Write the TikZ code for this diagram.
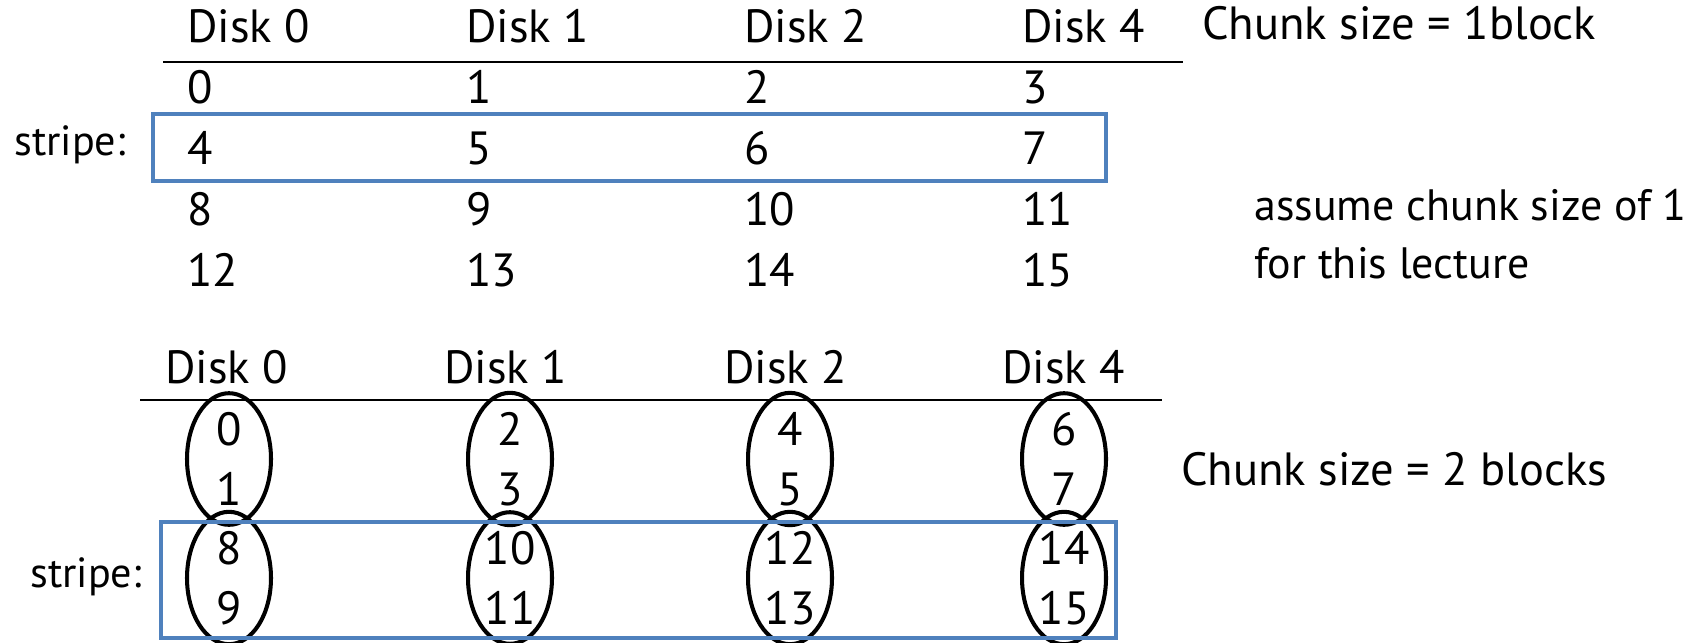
\documentclass[tikz,border=0pt]{standalone}
\usepackage{fontspec}
\setmainfont{PT Sans}
\usetikzlibrary{shapes.geometric}

\definecolor{stripeblue}{HTML}{4F81BD}

\tikzset{
  raid head/.style={anchor=base west, inner sep=0pt, font=\fontsize{26.5}{30}\selectfont},
  raid cell/.style={anchor=base west, inner sep=0pt, font=\fontsize{26.5}{30}\selectfont},
  raid note/.style={anchor=base west, inner sep=0pt, font=\fontsize{26.5}{30}\selectfont},
  raid aside/.style={anchor=base west, inner sep=0pt, font=\fontsize{25}{30}\selectfont},
  raid label/.style={anchor=base west, inner sep=0pt, font=\fontsize{24}{28}\selectfont},
  raid rule/.style={draw=black, line width=1.1pt},
  raid stripe/.style={draw=stripeblue, line width=2.2pt},
  raid chunk/.style={ellipse, draw=black, line width=2.3pt, inner sep=0pt,
    minimum width=1.68cm, minimum height=2.36cm, align=center,
    font=\fontsize{26.5}{34.1}\selectfont},
}

\begin{document}
\begin{tikzpicture}[x=0.02cm, y=-0.02cm]
  \useasboundingbox (0,0) rectangle (1702,642);

  % chunk size = 1 block
  \foreach \x/\d [count=\i from 0] in {187/0, 466/1, 744/2, 1022/4}
    \node[raid head] (tophead\i) at (\x,43) {Disk \d};
  \draw[raid rule] (163,62) -- (1183,62);
  \foreach \r in {0,...,3}
    \foreach \x [count=\c from 0] in {187, 466, 744, 1022} {
      \pgfmathtruncatemacro\n{4*\r+\c}
      \node[raid cell] (top\n) at (\x,{103+61*\r}) {\n};
    }
  \draw[raid stripe] (153,114) rectangle (1106,181);
  \node[raid label] (topstripe) at (14,155) {stripe:};

  \node[raid note] (topsize) at (1202,40) {Chunk size = 1block};
  \node[raid aside] (assume) at (1254,220) {assume chunk size of 1};
  \node[raid aside] (lecture) at (1254,278) {for this lecture};

  % chunk size = 2 blocks
  \foreach \x/\d [count=\i from 0] in {165/0, 444/1, 724/2, 1002/4}
    \node[raid head] (bothead\i) at (\x,383) {Disk \d};
  \draw[raid rule] (140,400) -- (1162,400);
  \foreach \x [count=\c from 0] in {229, 510, 790, 1064} {
    \pgfmathtruncatemacro\a{2*\c}
    \pgfmathtruncatemacro\b{2*\c+1}
    \pgfmathtruncatemacro\p{2*\c+8}
    \pgfmathtruncatemacro\q{2*\c+9}
    \node[raid chunk] (chunk\c a) at (\x,459) {\a\\\b};
    \node[raid chunk] (chunk\c b) at (\x,578) {\p\\\q};
  }
  \draw[raid stripe] (161,522) rectangle (1116,638);
  \node[raid label] (botstripe) at (30,587) {stripe:};

  \node[raid note] (botsize) at (1181,485) {Chunk size = 2 blocks};
\end{tikzpicture}
\end{document}
